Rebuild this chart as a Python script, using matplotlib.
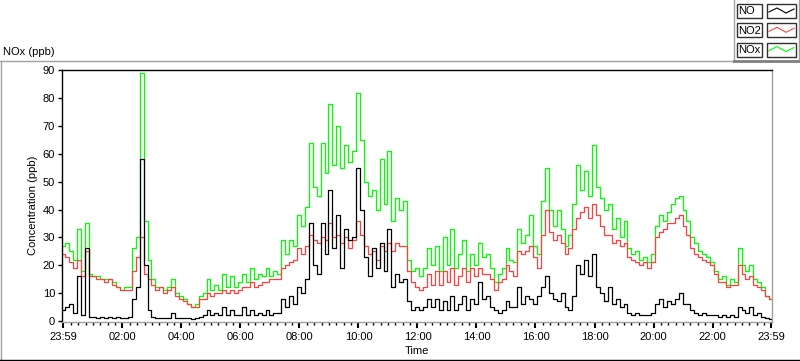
import numpy as np
import matplotlib
matplotlib.use("Agg")
import matplotlib.pyplot as plt
from matplotlib.lines import Line2D
from matplotlib.patches import Rectangle

plt.rcParams["font.family"] = ["Liberation Sans", "DejaVu Sans"]

W, H = 800, 361

# minutes after 23:59, one reading every 8 minutes
minutes = np.arange(0, 1441, 8)

nox = [27, 28, 25, 22, 33, 18, 35, 17, 16, 16, 15, 15, 15, 14, 12, 11,
       12, 12, 26, 30, 89, 36, 22, 15, 12, 12, 11, 12, 15, 10,
       9, 8, 6, 5, 6, 9, 10, 15, 11, 13, 11, 17, 12, 16, 12,
       14, 17, 14, 19, 15, 17, 16, 19, 16, 18, 17, 29, 24, 29, 27,
       38, 34, 41, 64, 48, 45, 64, 53, 78, 56, 70, 55, 63, 57, 61,
       82, 65, 50, 45, 47, 40, 58, 42, 61, 36, 44, 40, 43, 22, 18,
       19, 16, 19, 26, 20, 27, 18, 30, 20, 33, 19, 24, 29, 18, 24,
       20, 28, 23, 24, 19, 14, 17, 19, 26, 22, 21, 33, 28, 31, 38,
       27, 24, 43, 55, 40, 34, 40, 33, 27, 31, 42, 56, 47, 54, 45,
       63, 48, 44, 40, 42, 33, 37, 30, 36, 26, 24, 25, 22, 23, 21,
       24, 34, 38, 36, 39, 42, 44, 45, 40, 36, 30, 28, 25, 24, 23,
       21, 18, 15, 16, 13, 15, 14, 26, 20, 18, 20, 15, 14, 12, 9, 8]

no2 = [24, 23, 21, 19, 22, 16, 25, 16, 16, 15, 15, 14, 15, 13, 12, 11,
       11, 11, 18, 23, 30, 17, 15, 13, 11, 12, 10, 11, 12, 9,
       8, 7, 6, 5, 5, 8, 8, 10, 9, 10, 10, 11, 10, 11, 10,
       11, 12, 12, 14, 12, 13, 14, 14, 15, 15, 15, 19, 20, 21, 22,
       26, 24, 27, 31, 29, 28, 30, 29, 35, 30, 31, 28, 30, 26, 29,
       36, 31, 27, 24, 25, 22, 27, 25, 28, 25, 28, 27, 27, 18, 14,
       12, 11, 12, 17, 13, 18, 13, 18, 14, 19, 13, 16, 19, 14, 19,
       16, 19, 17, 17, 15, 11, 14, 15, 20, 18, 16, 25, 24, 25, 27,
       23, 19, 31, 40, 32, 29, 31, 28, 24, 26, 33, 37, 39, 41, 37,
       42, 38, 34, 31, 31, 28, 29, 27, 28, 23, 22, 21, 20, 21, 19,
       21, 30, 32, 33, 35, 35, 37, 38, 34, 31, 26, 24, 23, 22, 21,
       20, 17, 14, 14, 12, 13, 13, 20, 17, 15, 16, 13, 12, 11, 9, 8]

no = [4, 5, 6, 3, 16, 2, 26, 1.5, 1.5, 1, 1.5, 1, 1.5, 1, 1.5, 1,
      1, 1.5, 8, 12, 58, 20, 4, 1.5, 1, 1, 1, 1, 3, 1,
      1, 1, 1, 0.5, 1, 1.5, 2, 4, 2, 3, 2, 5, 2, 4, 2,
      2, 5, 2, 4, 2, 3, 2, 4, 2, 3, 3, 8, 5, 9, 6,
      12, 10, 15, 35, 20, 17, 35, 24, 47, 26, 38, 19, 33, 29, 30,
      55, 40, 23, 16, 26, 19, 28, 18, 33, 12, 17, 14, 15, 7, 4,
      5, 4, 5, 8, 5, 8, 4, 7, 4, 9, 4, 6, 9, 4, 8,
      6, 14, 8, 9, 5, 4, 3, 4, 7, 5, 5, 12, 6, 9, 8,
      6, 9, 12, 16, 10, 8, 7, 10, 5, 4, 9, 20, 17, 22, 16,
      24, 12, 10, 7, 12, 6, 8, 5, 6, 3, 2, 3, 2, 2, 2,
      3, 6, 8, 5, 7, 6, 8, 10, 6, 6, 4, 3, 2, 3, 2,
      2, 2, 1.5, 2, 1.5, 2, 1.5, 5, 4, 3, 5, 2, 3, 1.5, 1, 0.5]

tick_pos = [0, 121, 241, 361, 481, 601, 721, 841, 961, 1081, 1201, 1321, 1440]
tick_labels = ["23:59", "02:00", "04:00", "06:00", "08:00", "10:00", "12:00",
               "14:00", "16:00", "18:00", "20:00", "22:00", "23:59"]
series_names = ["NO", "NO2", "NOx"]
series_colors = ["black", "#ff4040", "#00ff00"]


def fx(x):
    return x / W


def fy(y):
    return 1 - y / H


fig = plt.figure(figsize=(8, 3.61), dpi=100)
ax = fig.add_axes([fx(62), fy(322), (772 - 62) / W, (322 - 70) / H])

ax.plot(minutes, nox, color=series_colors[2], lw=0.9, drawstyle="steps-mid")
ax.plot(minutes, no2, color=series_colors[1], lw=0.9, drawstyle="steps-mid")
ax.plot(minutes, no, color=series_colors[0], lw=0.9, drawstyle="steps-mid")

ax.set_xlim(-2, 1442)
ax.set_ylim(-0.4, 90.1)
ax.set_yticks(range(0, 91, 10))
ax.set_xticks(tick_pos)
ax.set_xticklabels(tick_labels)
minor = [t for t in range(16, 1440, 15) if (t - 1) % 120 != 0]
ax.set_xticks(minor, minor=True)

for side in ["top", "left"]:
    ax.spines[side].set_color("black")
    ax.spines[side].set_linewidth(1.0)
for side in ["bottom", "right"]:
    ax.spines[side].set_color("#a0a0a0")
    ax.spines[side].set_linewidth(1.0)

ax.tick_params(axis="y", direction="out", length=3, width=1, labelsize=8, pad=2)
ax.tick_params(axis="x", which="major", direction="out", length=4, width=1.5,
               labelsize=8, pad=3)
ax.tick_params(axis="x", which="minor", direction="out", length=2.5, width=1)

ax.set_xlabel("Time", fontsize=8, labelpad=3)
fig.text(fx(33), fy(205), "Concentration (ppb)", rotation=90, fontsize=8,
         ha="center", va="center")
fig.text(fx(3), fy(52), "NOx (ppb)", fontsize=8, ha="left", va="center")

# panel frame
gray = "#a0a0a0"
fig.add_artist(Line2D([fx(0), fx(800)], [fy(61), fy(61)], color=gray, lw=1,
                      transform=fig.transFigure))
fig.add_artist(Line2D([fx(1), fx(1)], [fy(61), fy(361)], color=gray, lw=1,
                      transform=fig.transFigure))
fig.add_artist(Line2D([fx(0), fx(800)], [fy(360), fy(360)], color="black", lw=1,
                      transform=fig.transFigure))
fig.add_artist(Line2D([fx(734), fx(734)], [fy(0), fy(61)], color=gray, lw=1,
                      transform=fig.transFigure))
fig.add_artist(Line2D([fx(799), fx(799)], [fy(0), fy(61)], color=gray, lw=1,
                      transform=fig.transFigure))
fig.add_artist(Line2D([fx(734), fx(799)], [fy(61), fy(61)], color="#808080", lw=2,
                      transform=fig.transFigure))

# legend boxes
for k, (name, col) in enumerate(zip(series_names, series_colors)):
    top = 4 + 19.3 * k
    fig.add_artist(Rectangle((fx(737), fy(top + 14)), 25 / W, 14 / H,
                             facecolor="white", edgecolor="#303030", lw=1,
                             transform=fig.transFigure))
    fig.text(fx(738.5), fy(top + 7.5), name, fontsize=8, ha="left", va="center")
    fig.add_artist(Rectangle((fx(767), fy(top + 14)), 29 / W, 14 / H,
                             facecolor="white", edgecolor="#303030", lw=1,
                             transform=fig.transFigure))
    zx = [769, 777, 786, 794]
    zy = [top + 8, top + 4, top + 9, top + 5]
    fig.add_artist(Line2D([fx(v) for v in zx], [fy(v) for v in zy], color=col,
                          lw=0.8, transform=fig.transFigure))

fig.savefig("out.png", dpi=100)
